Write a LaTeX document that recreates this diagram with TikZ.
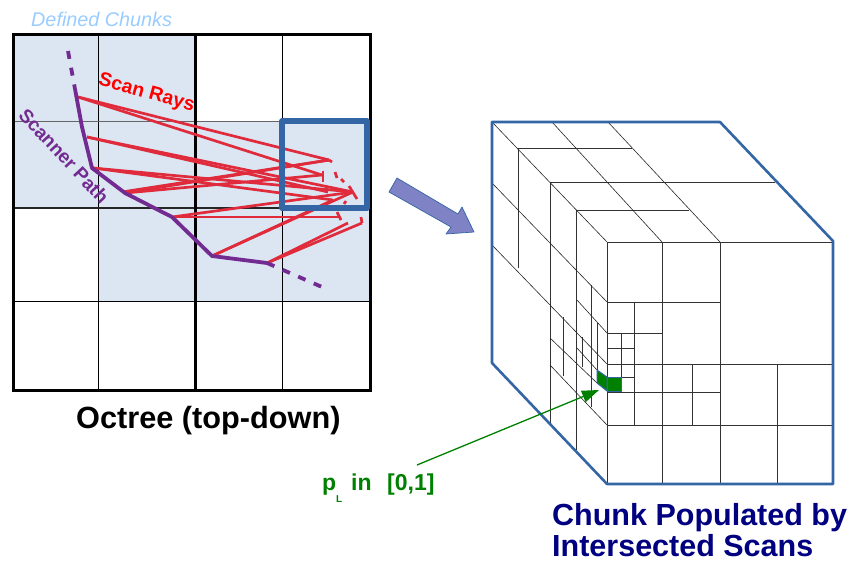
\documentclass[tikz,border=0pt]{standalone}
\usepackage{fontspec}
\setmainfont{Liberation Sans}
\usetikzlibrary{arrows.meta}
\definecolor{cellfill}{HTML}{DCE6F2}
\definecolor{boxblue}{HTML}{3465A4}
\definecolor{rayred}{HTML}{E02B3C}
\definecolor{pathpurple}{HTML}{722B90}
\definecolor{darkgreen}{HTML}{008000}
\definecolor{navyt}{HTML}{000080}
\definecolor{skyt}{HTML}{99CCFF}
\definecolor{arrowfill}{HTML}{7F82C4}
\tikzset{
 gridthin/.style={draw=black,line width=.9pt},
 gridthick/.style={draw=black,line width=3pt},
 ray/.style={draw=rayred,line width=2.7pt},
 scanpath/.style={draw=pathpurple,line width=3.8pt},
 scandash/.style={scanpath,dash pattern=on 8pt off 9pt},
 outline/.style={draw=boxblue,line width=2.6pt,line join=round},
 octline/.style={draw=black!80,line width=.9pt},
 diag/.style={draw=black!85,line width=.6pt},
 txt/.style={inner sep=0pt,anchor=base west},
}
\begin{document}
\begin{tikzpicture}[x=1pt,y=-1pt]
\useasboundingbox (0,0) rectangle (852,560);
% chunk fill
\fill[cellfill] (13,34) -- (195,34) -- (195,121) -- (370,121) -- (370,301) -- (98,301) -- (98,208) -- (13,208) -- cycle;
% grid
\draw[gridthin] (98,34) -- (98,390);
\draw[gridthin] (282,34) -- (282,390);
\draw[draw=black!60,line width=.9pt] (13,121) -- (370,121);
\draw[gridthin] (13,301) -- (370,301);
\draw[draw=black!85,line width=2.4pt] (13,208) -- (370,208);
\draw[gridthick] (195,34) -- (195,390);
\draw[gridthick] (13,34) rectangle (370,390);
% ray sources
\coordinate (sa) at (78,97); \coordinate (sb) at (87,137); \coordinate (sc) at (93,168);
\coordinate (sd) at (125,193); \coordinate (se) at (172,217); \coordinate (sf) at (212,256); \coordinate (sg) at (267,263);
% ray targets
\coordinate (t1) at (329,160); \coordinate (t2) at (322,175); \coordinate (t3) at (353,192);
\coordinate (t4) at (328,192); \coordinate (t5) at (333,200); \coordinate (t6) at (340,217);
\coordinate (t7) at (348,223); \coordinate (t8) at (362,223);
\foreach \s/\t in {sa/t1,sa/t2,sb/t3,sb/t4,sc/t5,sc/t3,sd/t1,sd/t2,se/t3,se/t6,sf/t3,sf/t5,sg/t7,sg/t8}{
 \draw[ray] (\s) -- (\t);
}
\draw[ray] (sd) -- ++(0,-1.5) -- (t1);
% ray end fragments
\draw[ray] (323,171) -- (323,182);
\draw[ray] (329,160) -- (332,162);
\draw[ray] (335,172) -- (337,178);
\draw[ray] (341,179) -- (344,182);
\draw[ray] (325,190) -- (328,186);
\draw[ray] (349,186) -- (357,199);
\draw[ray] (337,212) -- (341,220);
\draw[ray] (362,223) -- (361,217);
\draw[ray] (345,193) -- (347,195);
\draw[ray] (344,204) -- (346,201);
% blue chunk box
\draw[draw=boxblue,line width=5.5pt,line join=round] (282,121) rectangle (367,208);
% scanner path
\coordinate (p0) at (68,51); \coordinate (p1) at (75,89); \coordinate (p2) at (82,127);
\coordinate (p3) at (92,168); \coordinate (p4) at (125,193); \coordinate (p5) at (172,217);
\coordinate (p6) at (212,256); \coordinate (p7) at (267,263); \coordinate (p8) at (322,287);
\draw[scanpath,line join=round] (p1) -- (p2) -- (p3) -- (p4) -- (p5) -- (p6) -- (p7);
\draw[scandash] (p0) -- (p1);
\draw[scandash] (p7) -- (p8);
% labels on left
\node[txt,text=skyt,font=\fontsize{19.8}{24}\itshape] (defined) at (31,26) {Defined Chunks};
\node[text=red,inner sep=0pt,rotate=-15.5,font=\fontsize{19.5}{24}\bfseries] (scanrays) at (146.5,93.5) {Scan Rays};
\node[text=pathpurple,inner sep=0pt,rotate=-47,font=\fontsize{19}{24}\bfseries] (scanner) at (64,156) {Scanner Path};
\node[txt,font=\fontsize{30.7}{34}\bfseries] (octree) at (76,428) {Octree (top-down)};
% block arrow
\draw[draw=boxblue,line width=.7pt,fill=arrowfill,line join=round] (397,178) -- (389,192) -- (451,227) -- (446,234) -- (474,232) -- (462,207) -- (458,214) -- cycle;
% cube side: back edges
\foreach \x/\ya/\yb in {518/148/268,550/182/423,576/210/450,591/285/407,563/317/376,582/337/367,597/323/370}{
 \draw[octline] (\x,\ya) -- (\x,\yb);
}
\foreach \y/\xa/\xb in {148/518/632,182/550/775,210/576/689}{
 \draw[octline] (\xa,\y) -- (\xb,\y);
}
% cube side: diagonals
\draw[diag] (492,122) -- (607,242);
\draw[diag] (552,122) -- (662,242);
\draw[diag] (608,122) -- (720,242);
\draw[diag] (492,183) -- (607,302);
\draw[diag] (492,245) -- (607,364);
\draw[diag] (577,300) -- (607,333);
\draw[diag] (577,348) -- (597,370);
\draw[diag] (550,338) -- (597,383);
\draw[diag] (550,365) -- (607,425);
% cube front
\foreach \x/\ya/\yb in {607/242/484,662/242/484,720/242/484,634/302/425,692/364/425,777/364/484,621/333/392}{
 \draw[octline] (\x,\ya) -- (\x,\yb);
}
\foreach \y/\xa/\xb in {242/607/833,302/607/720,333/607/662,348/607/634,364/607/833,377/607/634,392/607/720,425/607/833}{
 \draw[octline] (\xa,\y) -- (\xb,\y);
}
% green cell
\path[fill=darkgreen,draw=boxblue,line width=1pt,line join=round] (597,370) -- (607,377) -- (607,391) -- (597,383) -- cycle;
\path[fill=darkgreen,draw=boxblue,line width=1pt] (607,377) rectangle (621,391);
% cube outline
\draw[outline] (492,363) -- (492,122) -- (720,122) -- (833,241) -- (833,484) -- (607,484) -- cycle;
% green pointer
\coordinate (ptail) at (417,465); \coordinate (phead) at (599,390);
\draw[draw=darkgreen,line width=1.3pt,-{Triangle[length=17pt,width=12pt]}] (ptail) -- (phead);
\node[txt,text=darkgreen,font=\fontsize{23}{26}\bfseries] (pl) at (322,490) {p};
\node[txt,text=darkgreen,font=\fontsize{10}{11}\bfseries] (plsub) at (336,502) {L};
\node[txt,text=darkgreen,font=\fontsize{23}{26}\bfseries] (plin) at (351,490) {in};
\node[txt,text=darkgreen,font=\fontsize{23}{26}\bfseries] (plrange) at (387,490) {[0,1]};
\node[txt,text=navyt,font=\fontsize{30.5}{32}\bfseries] (chunk1) at (552,525) {Chunk Populated by};
\node[txt,text=navyt,font=\fontsize{30.5}{32}\bfseries] (chunk2) at (552,556) {Intersected Scans};
\end{tikzpicture}
\end{document}
